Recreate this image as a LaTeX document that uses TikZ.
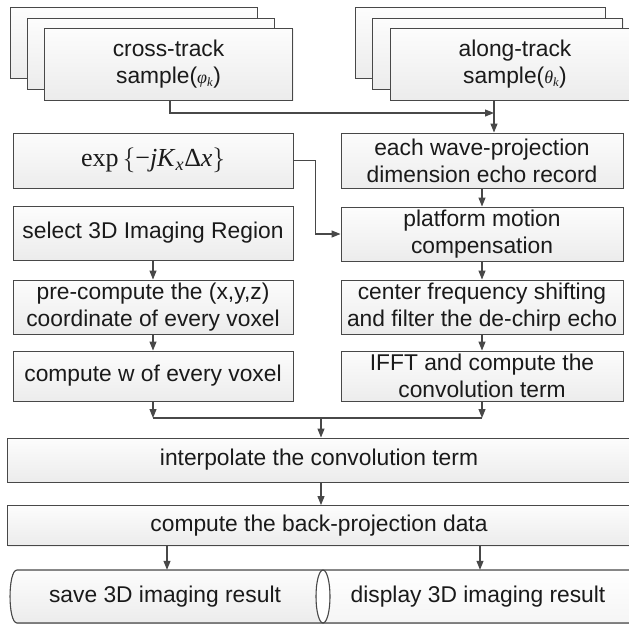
\documentclass[tikz,border=0pt]{standalone}
\usepackage{fontspec}
\setmainfont{Liberation Sans}
\newfontfamily\serifmath{Liberation Serif}
\usepackage{amsmath}
\usetikzlibrary{positioning, arrows.meta, shadows}
\definecolor{edge}{HTML}{484848}
\definecolor{ink}{HTML}{1A1A1A}
\tikzset{
    sheet/.style={draw=edge, line width=0.9pt, top color=gray!2, bottom color=gray!15,
        text=ink, align=center, inner sep=0pt, font=\fontsize{22.8}{26.7}\selectfont},
    box/.style={sheet, drop shadow={opacity=0.12, shadow xshift=1.2pt, shadow yshift=-1.2pt}},
    label/.style={text=ink, inner sep=0pt, font=\fontsize{22.8}{26.7}\selectfont},
    flow/.style={draw=edge, line width=1.1pt, -{Triangle[length=9pt, width=7pt]}},
    wire/.style={draw=edge, line width=1.1pt},
}
\newcommand{\smallsym}[1]{{\serifmath\itshape\fontsize{18}{18}\selectfont #1\textsubscript{k}}}

\begin{document}
\begin{tikzpicture}[x=1pt, y=-1pt]
        \clip (0,0) rectangle (629,625);

        \node [box, minimum width=247pt, minimum height=71pt] (CT1) at (133.5, 42.5) {};
        \node [box, minimum width=247pt, minimum height=71pt] (CT2) at (150.5, 53.5) {};
        \node [box, minimum width=248pt, minimum height=72pt] (CT3) at (168.5, 64) {cross-track\\sample(\smallsym{φ})};
        \node [box, minimum width=250pt, minimum height=71pt] (AT1) at (480, 42.5) {};
        \node [box, minimum width=250pt, minimum height=71pt] (AT2) at (497.5, 53.5) {};
        \node [box, minimum width=250pt, minimum height=72pt] (AT3) at (515, 64) {along-track\\sample(\smallsym{θ})};

        \node [box, minimum width=280pt, minimum height=55pt] (EXP) at (153, 160.5) {\serifmath\fontsize{26}{28}\selectfont exp\,$\{$−\textit{jK}\textsubscript{\itshape x}Δ\textit{x}$\}$};
        \node [box, minimum width=280pt, minimum height=54pt] (SEL) at (153, 233) {select 3D Imaging Region};
        \node [box, minimum width=280pt, minimum height=54pt] (PRE) at (153, 307) {pre-compute the (x,y,z)\\coordinate of every voxel};
        \node [box, minimum width=280pt, minimum height=50pt] (W) at (153, 376) {compute w of every voxel};

        \node [box, minimum width=282pt, minimum height=55pt] (WAVE) at (482, 160.5) {each wave-projection\\dimension echo record};
        \node [box, minimum width=282pt, minimum height=54pt] (PMC) at (482, 234) {platform motion\\compensation};
        \node [box, minimum width=282pt, minimum height=54pt] (CFS) at (482, 307) {center frequency shifting\\and filter the de-chirp echo};
        \node [box, minimum width=282pt, minimum height=50pt] (IFFT) at (482, 376) {IFFT and compute the\\convolution term};

        \node [box, minimum width=633pt, minimum height=44pt] (INT) at (323.5, 460) {};
        \node [label] at (319, 460) {interpolate the convolution term};
        \node [box, minimum width=633pt, minimum height=40pt] (BP) at (323.5, 525.5) {};
        \node [label] at (319, 525.5) {compute the back-projection data};

        \fill [top color=gray!2, bottom color=gray!15]
            (17,570) -- (323,570) .. controls (313.7,570) and (313.7,623) .. (323,623)
            -- (17,623) .. controls (7.7,623) and (7.7,570) .. (17,570) -- cycle;
        \fill [top color=white, bottom color=gray!8]
            (323,570) -- (640,570) -- (640,623) -- (323,623)
            .. controls (332.3,623) and (332.3,570) .. (323,570) -- cycle;
        \draw [wire] (640,570) -- (17,570) .. controls (7.7,570) and (7.7,623) .. (17,623) -- (640,623);
        \draw [wire] (323,596.5) ellipse [x radius=7, y radius=26.5];
        \node [label, minimum height=53pt] (SAVE) at (165, 596.5) {save 3D imaging result};
        \node [label, minimum height=53pt] (DISP) at (478, 596.5) {display 3D imaging result};

        \coordinate (J1) at (494, 113);
        \coordinate (J2) at (321, 418);

        \draw [flow] (CT3.south -| 170,0) |- (J1);
        \draw [flow] (AT3.south -| J1) -- (WAVE.north -| J1);
        \draw [flow] (WAVE) -- (PMC);
        \draw [flow] (PMC) -- (CFS);
        \draw [flow] (CFS) -- (IFFT);
        \draw [flow] (SEL) -- (PRE);
        \draw [flow] (PRE) -- (W);
        \draw [flow] (EXP.east) -- ++(22,0) |- (PMC.west);
        \draw [flow] (W.south) -- (W.south |- J2);
        \draw [flow] (IFFT.south) -- (IFFT.south |- J2);
        \draw [wire] (W.south |- J2) -- (IFFT.south |- J2);
        \draw [flow] (J2) -- (INT.north -| J2);
        \draw [flow] (INT.south -| J2) -- (BP.north -| J2);
        \draw [flow] (BP.south -| 167,0) -- (SAVE.north -| 167,0);
        \draw [flow] (BP.south -| 480,0) -- (DISP.north -| 480,0);
    \end{tikzpicture}
\end{document}
